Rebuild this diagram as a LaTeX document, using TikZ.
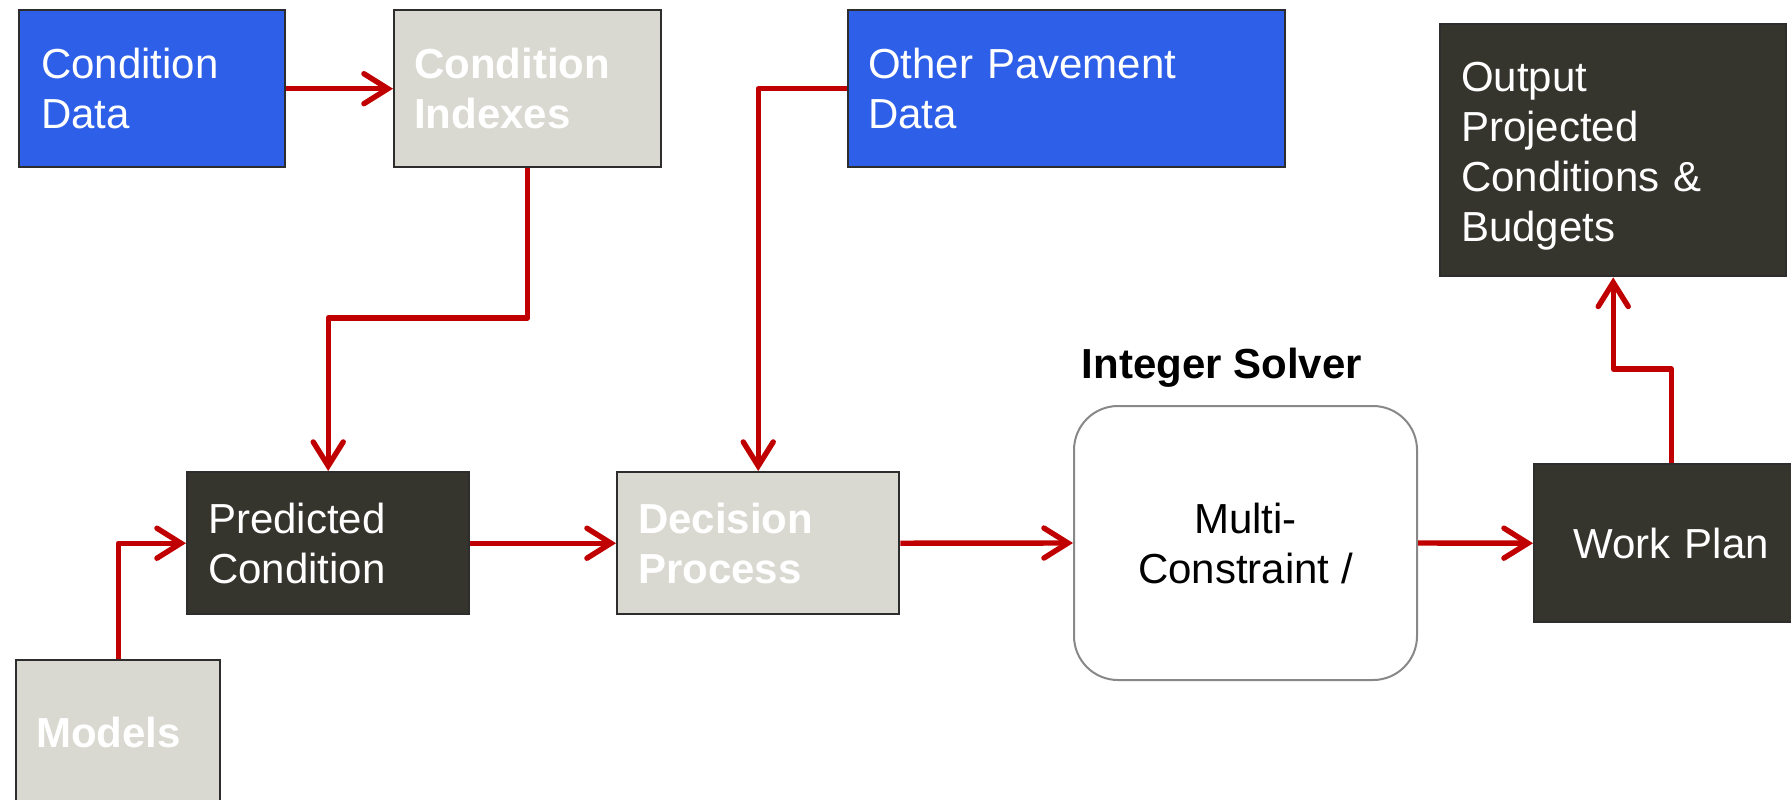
\documentclass[tikz,border=0pt]{standalone}
\usepackage{fontspec}
\setmainfont{Liberation Sans}
\usetikzlibrary{arrows.meta}
\definecolor{cblue}{RGB}{46,95,232}
\definecolor{cgray}{RGB}{217,217,209}
\definecolor{cdark}{RGB}{53,53,45}
\definecolor{cred}{RGB}{192,0,0}
\definecolor{cline}{RGB}{45,45,45}
\definecolor{cround}{RGB}{136,136,136}
\tikzset{
  box/.style={draw=cline, line width=1.2pt, anchor=north west, inner ysep=0pt,
    align=left, font=\fontsize{21pt}{25pt}\selectfont, text=white},
  bluebox/.style={box, fill=cblue},
  graybox/.style={box, fill=cgray, font=\fontsize{21pt}{25pt}\selectfont\bfseries},
  darkbox/.style={box, fill=cdark},
  solverbox/.style={draw=cround, line width=1pt, fill=white, rounded corners=22pt,
    align=center, text=black, font=\fontsize{21pt}{25pt}\selectfont, anchor=north west, inner sep=0pt},
  flow/.style={draw=cred, line width=2.7pt, line join=round,
    -{Straight Barb[length=12pt,width=15pt,line cap=round]}}
}
\begin{document}
\begin{tikzpicture}[x=0.5pt,y=-0.5pt]
\useasboundingbox (0,0) rectangle (1791,799);
\clip (0,0) rectangle (1791,799);
\fill[white] (0,0) rectangle (1791,799);
% boxes
\node[bluebox, inner xsep=11pt, text width=111pt, minimum height=78.5pt] (cd) at (18,9) {Condition\\Data};
\node[graybox, inner xsep=10pt, text width=113.5pt, minimum height=78.5pt] (ci) at (393,9) {Condition\\Indexes};
\node[bluebox, inner xsep=10pt, text width=198.5pt, minimum height=78.5pt] (op) at (847,9) {Other Pavement\\Data};
\node[darkbox, inner xsep=10.5pt, text width=152pt, minimum height=126pt] (out) at (1439,23) {\raisebox{-3pt}[\height][\depth]{\parbox{152pt}{\raggedright Output\\Projected\\Conditions \&\\Budgets}}};
\node[darkbox, inner xsep=10.5pt, text width=120pt, minimum height=71pt] (pred) at (186,471) {Predicted\\Condition};
\node[graybox, inner xsep=10.5pt, text width=120pt, minimum height=71pt] (dec) at (616,471) {Decision\\Process};
\node[graybox, inner xsep=10pt, text width=82pt, minimum height=72pt] (models) at (15,659) {Models};
\node[solverbox, minimum width=171.5pt, minimum height=137pt] (multi) at (1073,405) {\raisebox{-3pt}{\parbox{160pt}{\centering Multi-\\Constraint /}}};
\node[darkbox, align=center, inner xsep=0pt, text width=137pt, minimum height=79pt] (wp) at (1533,463) {Work Plan};
\node[font=\fontsize{21pt}{25pt}\selectfont\bfseries, text=black, inner sep=0pt] (isl) at (1222,368) {Integer Solver};
% connectors
\draw[flow] (cd.east) -- (ci.west);
\draw[flow] (ci.south) -- (ci.south |- 0,318) -| (pred.north);
\draw[flow] (op.west) -| (dec.north);
\draw[flow] (models.north) |- (pred.west);
\draw[flow] (pred.east) -- (dec.west);
\draw[flow] (dec.east) -- (multi.west);
\draw[flow] (multi.east) -- (wp.west);
\draw[flow] (wp.north) -- (wp.north |- 0,369) -| (out.south);
\end{tikzpicture}
\end{document}
